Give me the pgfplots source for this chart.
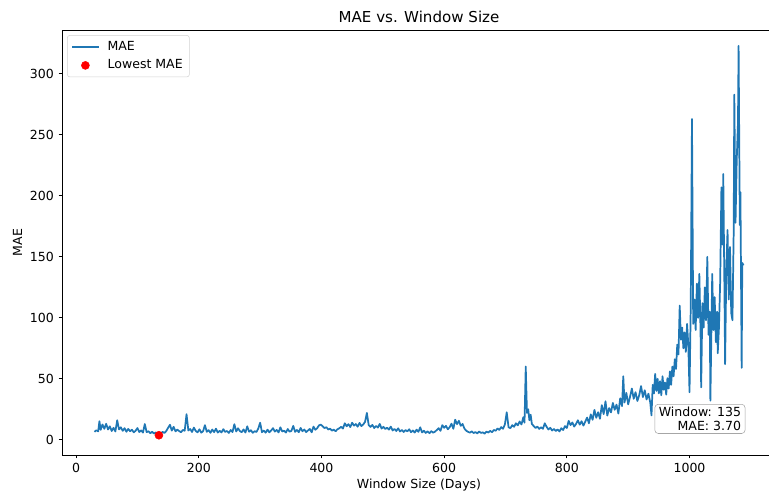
\documentclass[border=0pt]{standalone}
\usepackage{pgfplots}
\pgfplotsset{compat=1.18}
\usepackage{fontspec}
\setmainfont{DejaVu Sans}
\definecolor{mplblue}{HTML}{1F77B4}

\begin{document}
\begin{tikzpicture}
\begin{axis}[
name=ax,
scale only axis,
width=535.5pt, height=318.75pt,
xmin=-23, xmax=1141,
ymin=-12.5, ymax=336,
xtick={0,200,...,1000},
ytick={0,50,...,300},
tick pos=left,
tick align=outside,
major tick length=2.6pt,
tick style={black, line width=0.6pt},
axis line style={black, line width=0.6pt},
/pgf/number format/assume math mode=true,
/pgf/number format/1000 sep={},
ticklabel style={font=\fontsize{9.4}{11}\selectfont},
title={MAE vs. Window Size},
title style={font=\fontsize{11.3}{13}\selectfont, yshift=-4pt},
xlabel={Window Size (Days)},
ylabel={MAE},
label style={font=\fontsize{9.4}{11}\selectfont},
xlabel style={yshift=2pt},
ylabel style={yshift=-1pt},
legend style={at={(rel axis cs:0.007,0.988)}, anchor=north west,
  font=\fontsize{9.4}{11}\selectfont, draw=gray!35, rounded corners=2pt,
  row sep=1.5pt, inner xsep=3pt, inner ysep=2.5pt},
legend cell align=left,
clip=false,
]
\addplot [mplblue, line width=1.3pt, line join=round,
  legend image code/.code={\draw[mplblue, line width=1.2pt] (0pt,0pt) -- (20pt,0pt); \path (24pt,0pt);}] table {
30 6.5
33 7.8
36 6.9
38 15.2
40 8.1
43 12.5
46 9.0
49 13.1
52 8.4
55 11.0
58 7.2
61 9.8
64 6.8
67 16.0
70 8.5
73 10.2
76 7.3
79 9.5
82 6.6
85 8.9
88 7.0
91 8.2
94 6.1
97 7.4
100 9.6
103 6.3
106 7.7
109 5.9
112 12.9
115 6.2
118 7.0
121 5.4
124 6.6
127 5.1
130 6.0
133 4.6
135 3.7
138 5.3
141 6.4
144 5.6
147 7.2
150 9.8
153 12.3
156 7.5
159 10.6
162 6.9
165 8.3
168 7.1
171 6.2
174 8.0
177 7.4
180 21.0
183 7.6
186 8.8
189 6.4
192 10.0
195 7.2
198 6.1
201 8.6
204 5.8
207 7.0
210 12.0
213 6.5
216 7.9
219 5.7
222 8.4
225 6.2
228 9.1
231 5.9
234 7.3
237 6.0
240 8.7
243 6.4
246 7.2
249 5.6
252 8.0
255 6.3
258 12.8
261 6.8
264 9.4
267 7.1
270 6.2
273 8.5
276 5.9
279 11.0
282 6.6
285 7.8
288 5.7
291 7.0
294 6.4
297 9.2
300 14.0
303 6.2
306 7.5
309 5.8
312 8.3
315 6.1
318 7.6
321 9.5
324 6.7
327 8.1
330 6.0
333 10.2
336 6.8
339 7.4
342 5.9
345 8.8
348 6.6
351 7.3
354 11.4
357 6.5
360 8.0
363 6.2
366 9.7
369 7.0
372 8.4
375 6.3
378 7.6
381 8.9
384 6.1
387 10.8
390 8.2
393 9.5
396 11.8
399 12.4
402 11.0
405 9.6
408 10.3
411 8.4
414 9.1
417 7.5
420 8.3
423 7.0
426 8.6
429 9.4
432 10.6
435 9.2
438 13.5
441 11.1
444 12.8
447 10.4
450 14.0
453 11.6
456 12.9
459 10.7
462 13.8
465 11.2
468 12.5
471 14.6
474 22.0
477 12.0
480 10.5
483 12.2
486 9.6
489 11.3
492 10.0
495 13.0
498 9.2
501 10.6
504 8.8
507 9.9
510 8.3
513 10.8
516 7.6
519 8.9
522 7.2
525 9.4
528 6.8
531 8.0
534 6.4
537 7.9
540 6.9
543 8.6
546 6.2
549 7.6
552 5.9
555 8.3
558 6.5
561 10.2
564 6.0
567 7.4
570 5.6
573 6.9
576 5.4
579 7.1
582 5.8
585 6.6
588 8.0
591 9.5
594 7.3
597 12.0
600 9.8
603 11.4
606 8.6
609 10.3
612 13.2
615 9.0
618 16.5
621 12.8
624 15.6
627 11.4
630 13.0
633 9.2
636 7.4
639 6.5
642 5.8
645 6.9
648 5.5
651 6.3
654 5.2
657 6.8
660 5.6
663 6.1
666 5.0
669 6.7
672 5.9
675 7.3
678 6.2
681 8.0
684 7.4
687 9.3
690 8.1
693 10.4
696 9.0
699 12.6
702 22.5
705 10.2
708 9.5
711 12.0
714 10.6
717 13.5
720 11.8
723 15.0
726 12.5
729 18.5
731 14.0
733 60.0
735 22.0
737 25.0
739 16.0
741 20.5
743 13.0
746 11.2
749 9.6
752 10.8
755 8.9
758 10.2
761 9.0
764 13.5
767 10.6
770 8.4
773 9.8
776 7.6
779 8.9
782 7.2
785 8.5
788 6.8
791 9.5
794 8.0
797 11.2
800 9.6
803 15.5
806 12.0
809 14.2
812 10.8
815 13.0
818 16.0
821 12.4
824 15.2
827 11.6
830 14.8
833 18.2
836 13.5
839 20.8
842 16.4
845 24.5
848 18.0
851 22.6
854 17.2
857 28.4
860 21.0
863 31.5
866 19.8
869 26.0
872 22.4
875 30.2
878 24.6
881 28.8
884 21.5
887 34.0
890 27.6
892 52.0
894 30.5
897 38.5
900 29.0
903 35.2
906 42.0
909 33.6
912 39.0
915 31.8
918 36.5
921 44.0
924 35.0
927 40.6
930 33.0
933 37.8
936 30.5
938 20.0
940 45.0
942 38.0
944 54.0
946 40.0
948 50.0
950 38.0
952 48.0
954 36.5
956 52.0
958 41.0
960 47.0
962 37.0
964 50.5
966 42.0
968 56.0
970 45.0
972 60.0
974 52.0
976 66.0
978 58.0
980 78.0
982 70.0
984 110.0
986 82.0
988 92.0
990 75.0
992 88.0
994 72.0
996 95.0
998 78.0
1000 39.0
1002 110.0
1004 263.0
1006 95.0
1008 115.0
1010 90.0
1012 128.0
1014 100.0
1016 136.0
1018 88.0
1019 43.0
1021 112.0
1023 92.0
1025 125.0
1027 98.0
1029 150.0
1031 86.0
1033 105.0
1034 32.0
1036 100.0
1037 136.0
1039 90.0
1041 117.0
1043 80.0
1045 105.0
1046 71.0
1048 92.0
1050 130.0
1052 207.0
1054 160.0
1055 218.0
1057 120.0
1058 62.0
1060 140.0
1062 172.0
1064 115.0
1066 158.0
1068 104.0
1070 98.0
1072 170.0
1073 283.0
1075 178.0
1077 230.0
1079 260.0
1080 323.0
1082 176.0
1083 203.0
1085 59.0
1086 145.0
1088 143.0
};
\addlegendentry{MAE}
\addplot [only marks, mark=*, mark size=3pt, red, mark options={draw=red, fill=red},
  legend image code/.code={\path (0pt,0pt) (24pt,0pt); \fill[red] (10pt,0pt) circle[radius=3pt];}] coordinates {(135,3.70)};
\addlegendentry{Lowest MAE}
\node [anchor=south east, draw=gray!70, rounded corners=2.5pt, fill=white,
  align=right, inner xsep=3pt, inner ysep=2pt, font=\fontsize{9.4}{10.6}\selectfont]
  at (rel axis cs:0.957,0.05) {Window: 135\\MAE: 3.70};
\end{axis}
\pgfresetboundingbox
\path ([shift={(-46.5pt,-33.75pt)}]ax.south west) rectangle ([shift={(-5.25pt,22.5pt)}]ax.north east);
\end{tikzpicture}
\end{document}
